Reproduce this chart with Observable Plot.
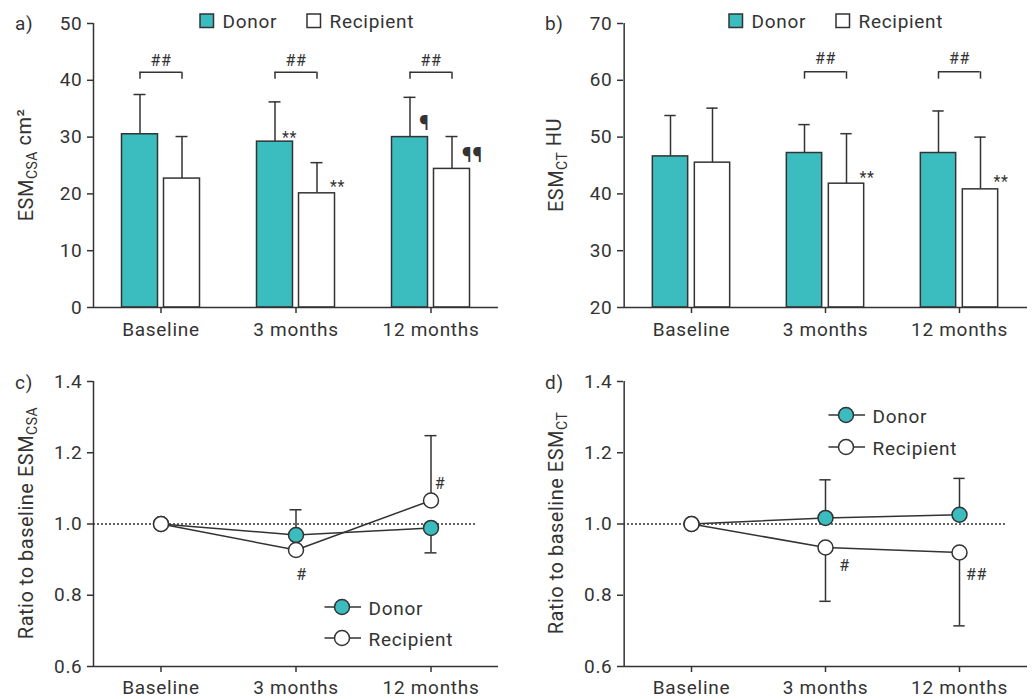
<!DOCTYPE html>
<html><head><meta charset="utf-8">
<script src="https://cdn.jsdelivr.net/npm/d3@7"></script>
<script src="https://cdn.jsdelivr.net/npm/@observablehq/plot@0.6"></script>
<style>
body{margin:0;background:#fff;}
#fig{position:relative;width:1033px;height:699px;overflow:hidden;background:#fff;}
.panel{position:absolute;}
.panel svg{overflow:visible;}
</style></head><body><div id="fig"></div>
<script>
// ---------- data ----------
const timepoints = ["Baseline", "3 months", "12 months"];
const groups = ["Donor", "Recipient"];

// a) ESM CSA (cm2): mean and SD
const csaDonorMean = [30.5, 29.2, 30.0];
const csaDonorSd = [7.0, 7.0, 7.0];
const csaRecipMean = [22.7, 20.1, 24.4];
const csaRecipSd = [7.4, 5.4, 5.7];
const csaTicks = [0, 10, 20, 30, 40, 50];
const csaBracketTimes = ["Baseline", "3 months", "12 months"];
const csaBracketTop = 41.4, csaBracketFoot = 40.2, csaBracketLabelY = 43.5;
const csaNoteTimes = ["3 months", "3 months", "12 months", "12 months"];
const csaNoteGroups = ["Donor", "Recipient", "Donor", "Recipient"];
const csaNoteLabels = ["**", "**", "¶", "¶¶"];
const csaNoteY = [29.9, 21.2, 32.3, 26.7];

// b) ESM CT (HU): mean and SD
const ctDonorMean = [46.6, 47.2, 47.2];
const ctDonorSd = [7.2, 5.0, 7.4];
const ctRecipMean = [45.5, 41.8, 40.8];
const ctRecipSd = [9.6, 8.8, 9.2];
const ctTicks = [20, 30, 40, 50, 60, 70];
const ctBracketTimes = ["3 months", "12 months"];
const ctBracketTop = 61.5, ctBracketFoot = 60.2, ctBracketLabelY = 63.7;
const ctNoteTimes = ["3 months", "12 months"];
const ctNoteGroups = ["Recipient", "Recipient"];
const ctNoteLabels = ["**", "**"];
const ctNoteY = [42.8, 42.1];

// c) ratio to baseline ESM CSA
const ratioCsaDonor = [1.0, 0.969, 0.989];
const ratioCsaDonorErr = [null, 1.040, 0.919];
const ratioCsaRecip = [1.0, 0.927, 1.066];
const ratioCsaRecipErr = [null, null, 1.248];
const ratioCsaNoteTimes = ["3 months", "12 months"];
const ratioCsaNoteLabels = ["#", "#"];
const ratioCsaNoteY = [0.858, 1.114];

// d) ratio to baseline ESM CT
const ratioCtDonor = [1.0, 1.017, 1.026];
const ratioCtDonorErr = [null, 1.124, 1.128];
const ratioCtRecip = [1.0, 0.934, 0.920];
const ratioCtRecipErr = [null, 0.783, 0.714];
const ratioCtNoteTimes = ["3 months", "12 months"];
const ratioCtNoteLabels = ["#", "##"];
const ratioCtNoteY = [0.883, 0.858];

const ratioTicks = [0.6, 0.8, 1.0, 1.2, 1.4];

// ---------- style ----------
const TEAL = "#3bbcbf", INK = "#333333";
const FONT = "Roboto, 'Noto Sans', sans-serif";
const TICK_FS = 19, TITLE_FS = 20, NOTE_FS = 16;
const SW = 1.5;
const LS = "0.7px";

const fig = document.getElementById("fig");

function place(svg, left, top) {
  const div = document.createElement("div");
  div.className = "panel";
  div.style.left = left + "px";
  div.style.top = top + "px";
  div.appendChild(svg);
  fig.appendChild(div);
}

function baseStyle() {
  return {fontFamily: FONT, fontSize: TICK_FS + "px", color: INK, background: "transparent", overflow: "visible", letterSpacing: LS};
}

function yTitle(svg, x, yc, main, sub, tail) {
  const t = d3.select(svg).append("text")
    .attr("transform", `translate(${x},${yc}) rotate(-90)`)
    .attr("text-anchor", "middle")
    .attr("fill", INK)
    .style("font-family", FONT)
    .style("font-size", TITLE_FS + "px")
    .style("letter-spacing", "0.5px");
  t.append("tspan").text(main);
  t.append("tspan").attr("dy", "0.28em").style("font-size", "14px").text(sub);
  if (tail) t.append("tspan").attr("dy", "-0.28em").text(tail);
}

function panelLabel(svg, x, y, s) {
  d3.select(svg).append("text").attr("x", x).attr("y", y).attr("fill", INK)
    .attr("text-anchor", "start")
    .style("font-family", FONT).style("font-size", "19px").text(s);
}

function squareLegend(svg, x0, x1, y) {
  const g = d3.select(svg).append("g").style("font-family", FONT).style("font-size", "19px")
    .attr("fill", INK).attr("text-anchor", "start");
  [[x0, TEAL, groups[0]], [x1, "#fff", groups[1]]].forEach(([x, f, s]) => {
    g.append("rect").attr("x", x).attr("y", y - 14).attr("width", 13.5).attr("height", 13.5)
      .attr("fill", f).attr("stroke", INK).attr("stroke-width", SW);
    g.append("text").attr("x", x + 22.5).attr("y", y).attr("text-anchor", "start")
      .style("letter-spacing", LS).text(s);
  });
}

function dotLegend(svg, x, y0, y1) {
  const g = d3.select(svg).append("g").style("font-family", FONT).style("font-size", "19px")
    .attr("text-anchor", "start");
  [[y0, TEAL, groups[0]], [y1, "#fff", groups[1]]].forEach(([y, f, s]) => {
    g.append("line").attr("x1", x - 17.5).attr("x2", x + 19).attr("y1", y).attr("y2", y)
      .attr("stroke", INK).attr("stroke-width", SW);
    g.append("circle").attr("cx", x).attr("cy", y).attr("r", 7.5).attr("fill", f)
      .attr("stroke", INK).attr("stroke-width", SW);
    g.append("text").attr("x", x + 26.5).attr("y", y + 7.5).attr("fill", INK)
      .attr("text-anchor", "start").style("letter-spacing", LS).text(s);
  });
}

const noteSize = d => d.label.includes("¶") ? 20 : NOTE_FS;

function barPanel(cfg) {
  const {dMean, dSd, rMean, rSd, yDomain, yTicks, bTimes, bTop, bFoot, bLabelY,
         nTimes, nGroups, nLabels, nY, width, height, ml, mr, mt, mb} = cfg;
  const rows = timepoints.flatMap((t, i) => [
    {time: t, group: "Donor", mean: dMean[i], sd: dSd[i]},
    {time: t, group: "Recipient", mean: rMean[i], sd: rSd[i]}
  ]);
  const brackets = bTimes.map(t => ({time: t, top: bTop, foot: bFoot, ly: bLabelY, label: "##"}));
  const notes = nTimes.map((t, i) => ({time: t, group: nGroups[i], label: nLabels[i], y: nY[i]}));
  const half = (width - ml - mr) / 3 / 2;
  const off = 21, barW = 36, cap = 6;
  const outer = off + barW / 2, inner = off - barW / 2;
  const donor = rows.filter(d => d.group === "Donor");
  const recip = rows.filter(d => d.group === "Recipient");
  const errMarks = (data, sgn) => [
    Plot.ruleX(data, {x: "time", y1: "mean", y2: d => d.mean + d.sd, dx: sgn * off, stroke: INK, strokeWidth: SW}),
    Plot.tickY(data, {x: "time", y: d => d.mean + d.sd, insetLeft: half + sgn * off - cap, insetRight: half - sgn * off - cap, stroke: INK, strokeWidth: SW})
  ];
  return Plot.plot({
    width, height, marginLeft: ml, marginRight: mr, marginTop: mt, marginBottom: mb,
    style: baseStyle(),
    x: {type: "band", domain: timepoints, padding: 0},
    y: {domain: yDomain},
    marks: [
      ...errMarks(donor, -1),
      ...errMarks(recip, 1),
      Plot.barY(donor, {x: "time", y1: () => yDomain[0], y2: "mean", fill: TEAL, stroke: INK, strokeWidth: SW,
        insetLeft: half - outer, insetRight: half + inner}),
      Plot.barY(recip, {x: "time", y1: () => yDomain[0], y2: "mean", fill: "#fff", stroke: INK, strokeWidth: SW,
        insetLeft: half + inner, insetRight: half - outer}),
      Plot.tickY(brackets, {x: "time", y: "top", insetLeft: half - off, insetRight: half - off, stroke: INK, strokeWidth: SW}),
      Plot.ruleX(brackets, {x: "time", y1: "foot", y2: "top", dx: -off, stroke: INK, strokeWidth: SW}),
      Plot.ruleX(brackets, {x: "time", y1: "foot", y2: "top", dx: off, stroke: INK, strokeWidth: SW}),
      Plot.text(brackets, {x: "time", y: "ly", text: "label", fontSize: NOTE_FS, fill: INK}),
      Plot.text(notes.filter(d => d.group === "Donor"), {x: "time", y: "y", text: "label", dx: -6.5, fontSize: noteSize, fill: INK}),
      Plot.text(notes.filter(d => d.group === "Recipient"), {x: "time", y: "y", text: "label", dx: 41.5, fontSize: noteSize, fill: INK}),
      Plot.ruleY([yDomain[0]], {stroke: INK, strokeWidth: SW}),
      Plot.ruleX([timepoints[0]], {dx: -half, stroke: INK, strokeWidth: SW}),
      Plot.axisY({ticks: yTicks, tickSize: 6, tickPadding: 5, strokeWidth: SW, stroke: INK, fill: INK, fontSize: TICK_FS, label: null}),
      Plot.axisX({tickSize: 6, tickPadding: 9, strokeWidth: SW, stroke: INK, fill: INK, fontSize: TICK_FS, label: null})
    ]
  });
}

function linePanel(cfg) {
  const {dv, de, rv, re, nTimes, nLabels, nY, nDx, width, height, ml, mr, mt, mb, dashInset} = cfg;
  const donor = timepoints.map((t, i) => ({time: t, group: "Donor", ratio: dv[i], err: de[i]}));
  const recip = timepoints.map((t, i) => ({time: t, group: "Recipient", ratio: rv[i], err: re[i]}));
  const errs = [...donor, ...recip].filter(d => d.err != null);
  const half = (width - ml - mr) / 3 / 2;
  const notes = nTimes.map((t, i) => ({time: t, label: nLabels[i], y: nY[i]}));
  return Plot.plot({
    width, height, marginLeft: ml, marginRight: mr, marginTop: mt, marginBottom: mb,
    style: baseStyle(),
    x: {type: "band", domain: timepoints, padding: 0},
    y: {domain: [0.6, 1.4]},
    marks: [
      Plot.ruleY([1], {stroke: INK, strokeWidth: 1.3, strokeDasharray: "2,2", insetRight: dashInset}),
      Plot.ruleX(errs, {x: "time", y1: "ratio", y2: "err", stroke: INK, strokeWidth: SW}),
      Plot.tickY(errs, {x: "time", y: "err", insetLeft: half - 6, insetRight: half - 6, stroke: INK, strokeWidth: SW}),
      Plot.line([...donor, ...recip], {x: "time", y: "ratio", z: "group", stroke: INK, strokeWidth: SW}),
      Plot.dot(donor, {x: "time", y: "ratio", r: 7.5, fill: TEAL, stroke: INK, strokeWidth: SW}),
      Plot.dot(recip, {x: "time", y: "ratio", r: 7.5, fill: "#fff", stroke: INK, strokeWidth: SW}),
      ...notes.map((n, i) => Plot.text([n], {x: "time", y: "y", text: "label", dx: nDx[i], fontSize: NOTE_FS, fill: INK})),
      Plot.ruleY([0.6], {stroke: INK, strokeWidth: SW}),
      Plot.ruleX([timepoints[0]], {dx: -half, stroke: INK, strokeWidth: SW}),
      Plot.axisY({ticks: ratioTicks, tickFormat: d3.format(".1f"), tickSize: 6, tickPadding: 5, strokeWidth: SW, stroke: INK, fill: INK, fontSize: TICK_FS, label: null}),
      Plot.axisX({tickSize: 6, tickPadding: 8, strokeWidth: SW, stroke: INK, fill: INK, fontSize: TICK_FS, label: null})
    ]
  });
}

// ---------- panel a ----------
const pa = barPanel({dMean: csaDonorMean, dSd: csaDonorSd, rMean: csaRecipMean, rSd: csaRecipSd,
  yDomain: [0, 50], yTicks: csaTicks, bTimes: csaBracketTimes, bTop: csaBracketTop, bFoot: csaBracketFoot, bLabelY: csaBracketLabelY,
  nTimes: csaNoteTimes, nGroups: csaNoteGroups, nLabels: csaNoteLabels, nY: csaNoteY,
  width: 516, height: 340, ml: 93, mr: 18, mt: 23, mb: 33});
yTitle(pa, 33, 165, "ESM", "CSA", " cm²");
panelLabel(pa, 15, 30, "a)");
squareLegend(pa, 200, 307, 28);
place(pa, 0, 0);

// ---------- panel b ----------
const pb = barPanel({dMean: ctDonorMean, dSd: ctDonorSd, rMean: ctRecipMean, rSd: ctRecipSd,
  yDomain: [20, 70], yTicks: ctTicks, bTimes: ctBracketTimes, bTop: ctBracketTop, bFoot: ctBracketFoot, bLabelY: ctBracketLabelY,
  nTimes: ctNoteTimes, nGroups: ctNoteGroups, nLabels: ctNoteLabels, nY: ctNoteY,
  width: 513, height: 340, ml: 103, mr: 6, mt: 23, mb: 33});
yTitle(pb, 43, 165, "ESM", "CT", " HU");
panelLabel(pb, 25, 30, "b)");
squareLegend(pb, 209, 316, 28);
place(pb, 520, 0);

// ---------- panel c ----------
const pc = linePanel({dv: ratioCsaDonor, de: ratioCsaDonorErr, rv: ratioCsaRecip, re: ratioCsaRecipErr,
  nTimes: ratioCsaNoteTimes, nLabels: ratioCsaNoteLabels, nY: ratioCsaNoteY, nDx: [5.5, 9],
  width: 516, height: 359, ml: 93, mr: 18, mt: 41, mb: 33, dashInset: 21});
yTitle(pc, 33, 183, "Ratio to baseline ESM", "CSA");
panelLabel(pc, 15, 49, "c)");
dotLegend(pc, 342, 267, 298);
place(pc, 0, 340);

// ---------- panel d ----------
const pd = linePanel({dv: ratioCtDonor, de: ratioCtDonorErr, rv: ratioCtRecip, re: ratioCtRecipErr,
  nTimes: ratioCtNoteTimes, nLabels: ratioCtNoteLabels, nY: ratioCtNoteY, nDx: [19, 17],
  width: 513, height: 359, ml: 103, mr: 6, mt: 41, mb: 33, dashInset: 22});
yTitle(pd, 43, 183, "Ratio to baseline ESM", "CT");
panelLabel(pd, 25, 49, "d)");
dotLegend(pd, 326, 75, 107);
place(pd, 520, 340);
</script>
</body></html>
